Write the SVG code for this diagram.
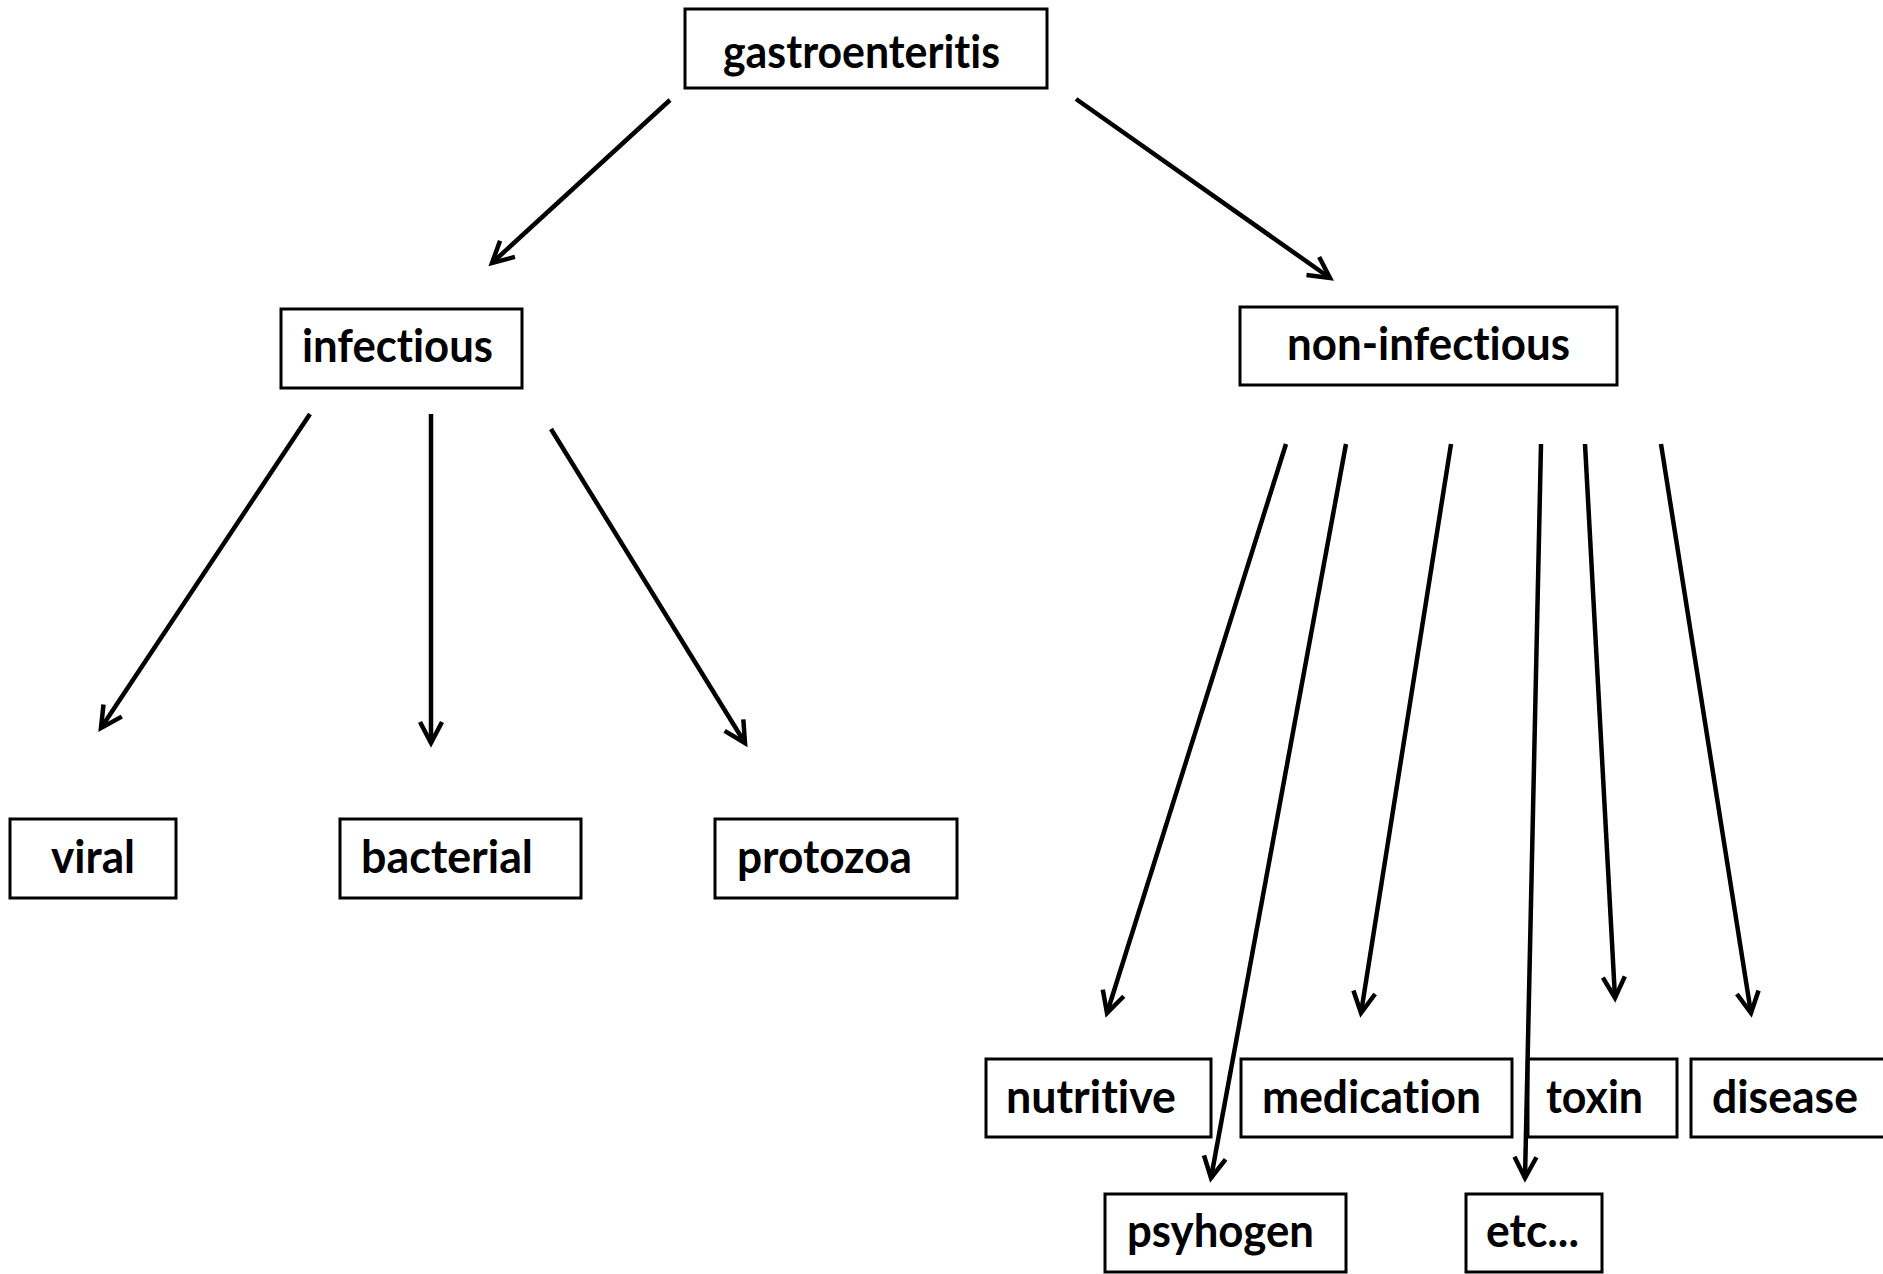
<svg xmlns="http://www.w3.org/2000/svg" width="1883" height="1274" viewBox="0 0 1883 1274">
<style>
.box{fill:#fff;stroke:#000;stroke-width:3}
.lbl{font-family:Lato,"Open Sans","Liberation Sans",sans-serif;font-weight:700;font-size:45px;fill:#000;font-variant-ligatures:none;font-feature-settings:"liga" 0}
.edge{stroke:#000;stroke-width:4.5;fill:none;marker-end:url(#ah)}
</style>
<defs>
<marker id="ah" markerUnits="userSpaceOnUse" markerWidth="40" markerHeight="40" refX="0" refY="0" orient="auto" overflow="visible">
<path d="M-21,-11 L0,0 L-21,11" fill="none" stroke="#000" stroke-width="4.5" stroke-linejoin="miter" stroke-linecap="butt"/>
</marker>
</defs>
<rect width="1883" height="1274" fill="#fff"/>
<g id="gastroenteritis"><rect class="box" x="685" y="9" width="362" height="79"/><text class="lbl" x="723" y="68" textLength="277" lengthAdjust="spacingAndGlyphs">gastroenteritis</text></g>
<g id="infectious"><rect class="box" x="281" y="309" width="241" height="79"/><text class="lbl" x="302" y="362" textLength="191" lengthAdjust="spacingAndGlyphs">infectious</text></g>
<g id="non-infectious"><rect class="box" x="1240" y="307" width="377" height="78"/><text class="lbl" x="1287" y="360" textLength="283" lengthAdjust="spacingAndGlyphs">non-infectious</text></g>
<g id="viral"><rect class="box" x="10" y="819" width="166" height="79"/><text class="lbl" x="51" y="873" textLength="84" lengthAdjust="spacingAndGlyphs">viral</text></g>
<g id="bacterial"><rect class="box" x="340" y="819" width="241" height="79"/><text class="lbl" x="361" y="873" textLength="172" lengthAdjust="spacingAndGlyphs">bacterial</text></g>
<g id="protozoa"><rect class="box" x="715" y="819" width="242" height="79"/><text class="lbl" x="737" y="873" textLength="175" lengthAdjust="spacingAndGlyphs">protozoa</text></g>
<g id="nutritive"><rect class="box" x="986" y="1059" width="225" height="78"/><text class="lbl" x="1006" y="1113" textLength="170" lengthAdjust="spacingAndGlyphs">nutritive</text></g>
<g id="medication"><rect class="box" x="1241" y="1059" width="271" height="78"/><text class="lbl" x="1262" y="1113" textLength="219" lengthAdjust="spacingAndGlyphs">medication</text></g>
<g id="toxin"><rect class="box" x="1528" y="1059" width="149" height="78"/><text class="lbl" x="1546" y="1113" textLength="97" lengthAdjust="spacingAndGlyphs">toxin</text></g>
<g id="disease"><rect class="box" x="1691" y="1059" width="210" height="78"/><text class="lbl" x="1712" y="1113" textLength="146" lengthAdjust="spacingAndGlyphs">disease</text></g>
<g id="psyhogen"><rect class="box" x="1105" y="1194" width="241" height="78"/><text class="lbl" x="1127" y="1247" textLength="187" lengthAdjust="spacingAndGlyphs">psyhogen</text></g>
<g id="etc"><rect class="box" x="1466" y="1194" width="136" height="78"/><text class="lbl" x="1486" y="1247" textLength="93" lengthAdjust="spacingAndGlyphs">etc...</text></g>
<g id="connectors">
<line class="edge" x1="670" y1="100" x2="492" y2="263"/>
<line class="edge" x1="1076" y1="99" x2="1330" y2="278"/>
<line class="edge" x1="310" y1="414" x2="101" y2="728"/>
<line class="edge" x1="431" y1="414" x2="431" y2="743"/>
<line class="edge" x1="551" y1="429" x2="745" y2="743"/>
<line class="edge" x1="1286" y1="444" x2="1107" y2="1013"/>
<line class="edge" x1="1346" y1="444" x2="1211" y2="1178"/>
<line class="edge" x1="1451" y1="444" x2="1361" y2="1013"/>
<line class="edge" x1="1541" y1="444" x2="1525" y2="1178"/>
<line class="edge" x1="1585" y1="444" x2="1615" y2="998"/>
<line class="edge" x1="1661" y1="444" x2="1751" y2="1013"/>
</g>
</svg>
